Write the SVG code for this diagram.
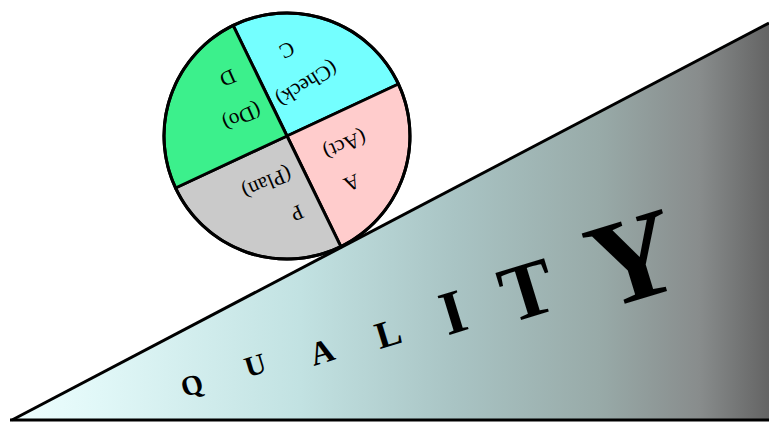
<svg xmlns="http://www.w3.org/2000/svg" width="769" height="422" viewBox="0 0 769 422">
<defs>
<linearGradient id="wedge" x1="0" y1="0" x2="769" y2="0" gradientUnits="userSpaceOnUse">
<stop offset="0" stop-color="#f0ffff"/>
<stop offset="0.13" stop-color="#e0f7f7"/>
<stop offset="0.39" stop-color="#c2e2e2"/>
<stop offset="0.59" stop-color="#a9c4c4"/>
<stop offset="0.78" stop-color="#98aaa8"/>
<stop offset="0.91" stop-color="#888c8c"/>
<stop offset="1" stop-color="#646464"/>
</linearGradient>
<style>
.seg{stroke:#000;stroke-width:3;stroke-linejoin:round}
.wt{font-family:"Liberation Serif","Times New Roman",serif;font-size:21px;fill:#000;text-anchor:middle;dominant-baseline:central}
.q{font-family:"Liberation Serif","Times New Roman",serif;font-weight:bold;fill:#000;text-anchor:middle;dominant-baseline:central}
</style>
</defs>
<rect width="769" height="422" fill="#fff"/>
<g id="wedge-ramp">
<path d="M12 420 L769 23 L769 420 Z" fill="url(#wedge)"/>
<path d="M12 420 L769 23" fill="none" stroke="#000" stroke-width="3"/>
<path d="M10 420 L769 420" fill="none" stroke="#000" stroke-width="3"/>
</g>
<g id="quality-text">
<text class="q" font-size="28" transform="translate(192,385) rotate(-17)">Q</text>
<text class="q" font-size="29" transform="translate(255,365) rotate(-17)">U</text>
<text class="q" font-size="33" transform="translate(322,352) rotate(-17)">A</text>
<text class="q" font-size="38" transform="translate(388,333) rotate(-17)">L</text>
<text class="q" font-size="62" transform="translate(453,312) rotate(-17)">I</text>
<text class="q" font-size="80" transform="translate(527,290) rotate(-17)">T</text>
<text class="q" font-size="122" transform="translate(633,258) rotate(-17)">Y</text>
</g>
<g id="pdca-wheel">
<g id="check">
<path class="seg" d="M287 136 L233.1 25.4 A123 123 0 0 1 398.5 84 Z" fill="#74ffff"/>
<text class="wt" transform="translate(287,50) rotate(154)">C</text>
<text class="wt" transform="translate(307,84) rotate(148)">(Check)</text>
</g>
<g id="act">
<path class="seg" d="M287 136 L398.5 84 A123 123 0 0 1 340.9 246.6 Z" fill="#ffcccc"/>
<text class="wt" transform="translate(352,183) rotate(156)">A</text>
<text class="wt" transform="translate(345,145) rotate(157)">(Act)</text>
</g>
<g id="plan">
<path class="seg" d="M287 136 L340.9 246.6 A123 123 0 0 1 175.5 188 Z" fill="#cacaca"/>
<text class="wt" transform="translate(297,213) rotate(156)">P</text>
<text class="wt" transform="translate(267,183) rotate(157)">(Plan)</text>
</g>
<g id="do">
<path class="seg" d="M287 136 L175.5 188 A123 123 0 0 1 233.1 25.4 Z" fill="#3cf08c"/>
<text class="wt" transform="translate(228,78) rotate(156)">D</text>
<text class="wt" transform="translate(242,117) rotate(156)">(Do)</text>
</g>
<circle cx="287" cy="136" r="123" fill="none" stroke="#000" stroke-width="3"/>
</g>
</svg>
